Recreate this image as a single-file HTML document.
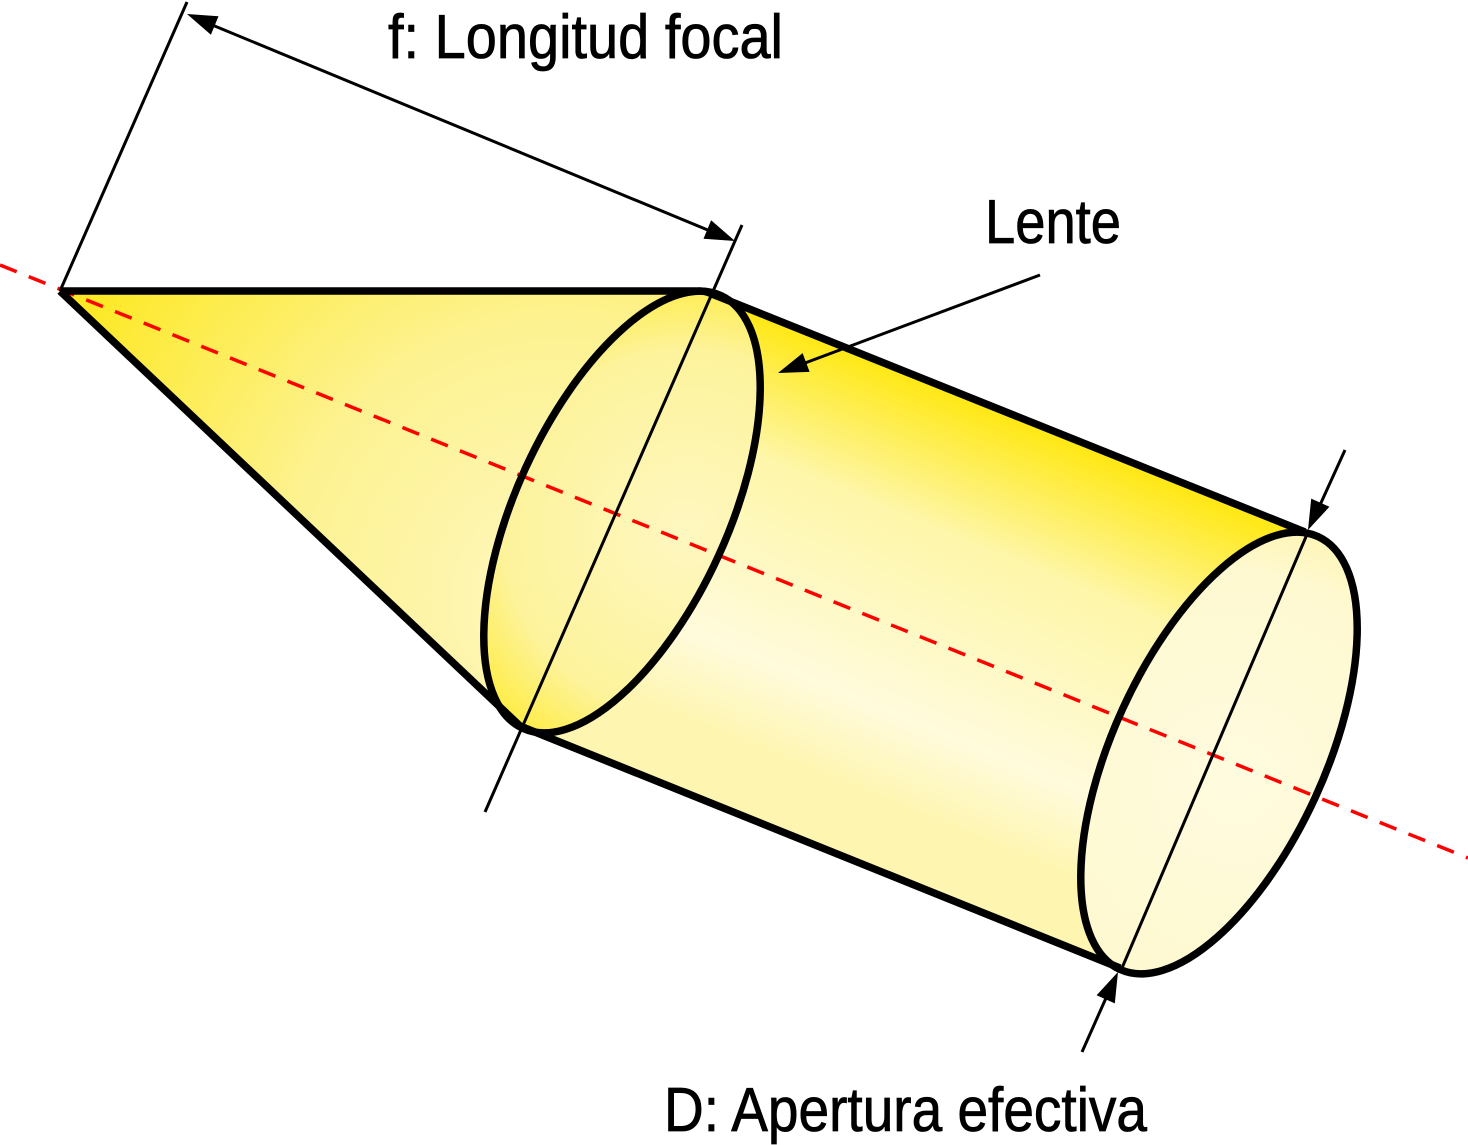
<!DOCTYPE html>
<html><head><meta charset="utf-8"><style>html,body{margin:0;padding:0;background:#fff}svg{display:block}</style></head>
<body>
<svg width="1468" height="1145" viewBox="0 0 1468 1145" xmlns="http://www.w3.org/2000/svg">
<defs>
<radialGradient id="gc" gradientUnits="userSpaceOnUse" cx="560" cy="600" r="560">
<stop offset="0" stop-color="#fef7c0"/><stop offset="0.5" stop-color="#fdf290"/><stop offset="1" stop-color="#fde823"/>
</radialGradient>
<linearGradient id="gy" gradientUnits="userSpaceOnUse" x1="1040" y1="410" x2="880" y2="800">
<stop offset="0" stop-color="#ffe600"/><stop offset="0.35" stop-color="#fef6a8"/><stop offset="0.8" stop-color="#fffbdc"/><stop offset="1" stop-color="#fef5b0"/>
</linearGradient>
<radialGradient id="gr" gradientUnits="userSpaceOnUse" cx="1200" cy="780" r="300">
<stop offset="0" stop-color="#fffbdf"/><stop offset="0.7" stop-color="#fef9d0"/><stop offset="1" stop-color="#fdf1a0"/>
</radialGradient>
<radialGradient id="gl" gradientUnits="userSpaceOnUse" cx="630" cy="580" r="280">
<stop offset="0" stop-color="#fef7c0"/><stop offset="0.65" stop-color="#fdf39c"/><stop offset="1" stop-color="#feea2a"/>
</radialGradient>
</defs>
<path d="M708,293 L1305,532 L1219,753 L1120,968 L520,726 L622,512 Z" fill="url(#gy)"/>
<ellipse cx="1219" cy="753" rx="238" ry="106" transform="rotate(-65.4 1219 753)" fill="url(#gr)"/>
<path d="M60,291 L700,291 L622,512 L520,726 Z" fill="url(#gc)"/>
<ellipse cx="622" cy="512" rx="238" ry="106" transform="rotate(-65.4 622 512)" fill="url(#gl)"/>
<line x1="0" y1="265" x2="1468" y2="858" stroke="#ff0000" stroke-width="3.5" stroke-dasharray="18,13"/>
<g fill="none" stroke="#000" stroke-width="7.5" stroke-linejoin="round">
<path d="M60,291 L700,291 Q706,291 712,294 L1305,532"/>
<path d="M60,291 L520,726 L1120,968"/>
<ellipse cx="622" cy="512" rx="238" ry="106" transform="rotate(-65.4 622 512)"/>
<ellipse cx="1219" cy="753" rx="238" ry="106" transform="rotate(-65.4 1219 753)"/>
</g>
<g stroke="#000" stroke-width="3" fill="none">
<line x1="742" y1="225" x2="485" y2="812"/>
<line x1="60" y1="291" x2="187" y2="2"/>
<line x1="205" y1="22" x2="715" y2="233"/>
<line x1="1345" y1="450" x2="1320" y2="505"/>
<line x1="1308" y1="532" x2="1122" y2="968"/>
<line x1="1082" y1="1052" x2="1106" y2="998"/>
<line x1="1040" y1="275" x2="805" y2="363"/>
</g>
<g fill="#000">
<polygon points="187,14 218.5,16.3 210.9,34.7"/>
<polygon points="735,241 711.1,220.3 703.5,238.7"/>
<polygon points="1308,530 1329.4,506.8 1311.2,498.6"/>
<polygon points="1118,972 1114.8,1003.4 1096.6,995.2"/>
<polygon points="778,373 809.6,371.9 802.6,353.1"/>
</g>
<g font-family="'Liberation Sans Narrow','Liberation Sans',sans-serif" fill="#000" stroke="#000" stroke-width="0.8" font-size="62">
<text x="388" y="58" textLength="395" lengthAdjust="spacingAndGlyphs">f: Longitud focal</text>
<text x="985" y="243" textLength="136" lengthAdjust="spacingAndGlyphs">Lente</text>
<text x="664" y="1131" textLength="483" lengthAdjust="spacingAndGlyphs">D: Apertura efectiva</text>
</g>
</svg>
</body></html>
